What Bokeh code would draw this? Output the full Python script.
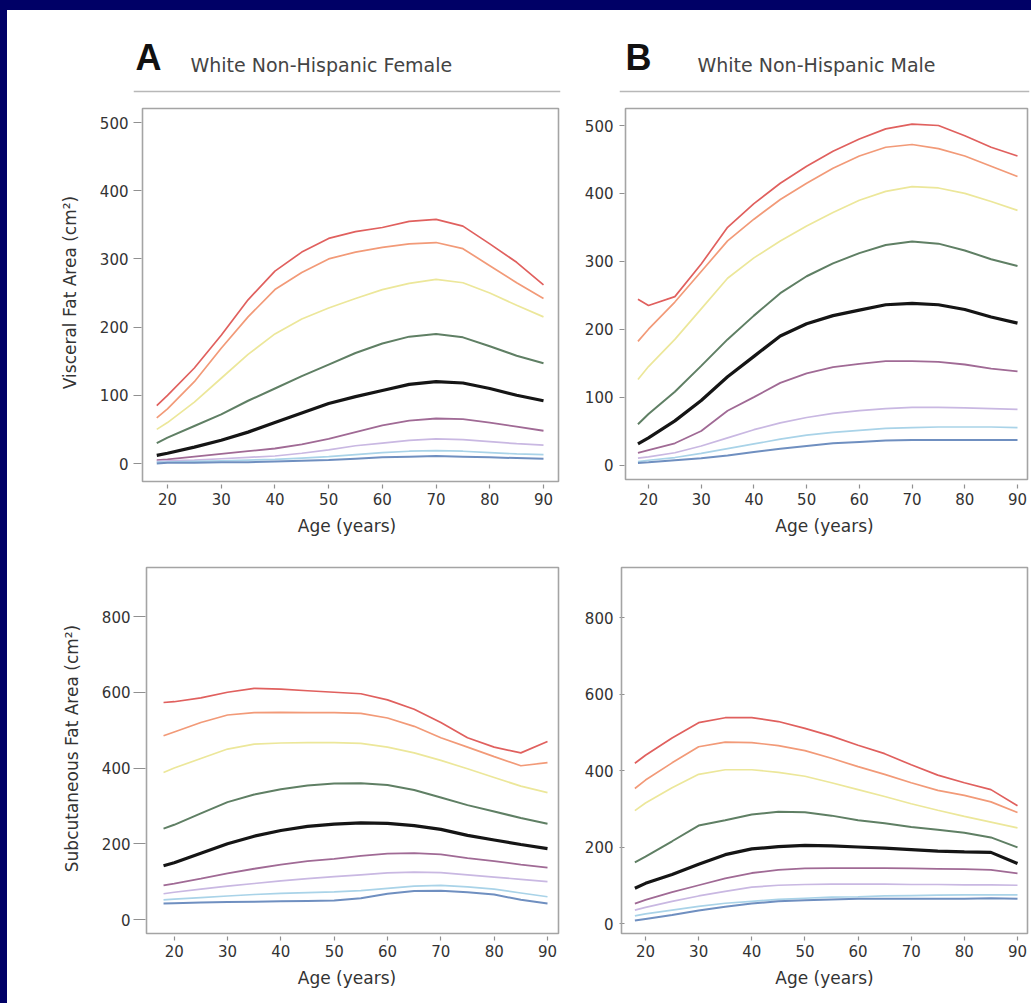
from bokeh.plotting import figure
from bokeh.layouts import column, row, Spacer
from bokeh.models import Range1d, FixedTicker, Label, BoxAnnotation, Span
from bokeh.embed import file_html
from bokeh.resources import INLINE

# ---------------- data ----------------
ages = [18, 20, 25, 30, 35, 40, 45, 50, 55, 60, 65, 70, 75, 80, 85, 90]
percentiles = ["97th", "95th", "90th", "75th", "50th", "25th", "10th", "5th", "3rd"]
x_ticks = [20, 30, 40, 50, 60, 70, 80, 90]
vat_ticks = [0, 100, 200, 300, 400, 500]
sat_ticks = [0, 200, 400, 600, 800]
titles = ["White Non-Hispanic Female", "White Non-Hispanic Male"]
letters = ["A", "B"]
x_title = "Age (years)"
y_titles = ["Visceral Fat Area (cm²)", "Subcutaneous Fat Area (cm²)"]

# A: White Non-Hispanic Female, visceral fat area
fv_p97 = [85, 100, 140, 188, 240, 282, 310, 330, 340, 346, 355, 358, 348, 322, 295, 262]
fv_p95 = [67, 80, 120, 169, 215, 255, 280, 300, 310, 317, 322, 324, 315, 290, 265, 242]
fv_p90 = [50, 60, 90, 125, 160, 190, 212, 228, 242, 255, 264, 270, 265, 250, 232, 215]
fv_p75 = [30, 38, 55, 72, 92, 110, 128, 145, 162, 176, 186, 190, 185, 172, 158, 147]
fv_p50 = [12, 15, 24, 34, 46, 60, 74, 88, 98, 107, 116, 120, 118, 110, 100, 92]
fv_p25 = [5, 6, 10, 14, 18, 22, 28, 36, 46, 56, 63, 66, 65, 60, 54, 48]
fv_p10 = [3, 4, 5, 7, 9, 11, 15, 20, 26, 30, 34, 36, 35, 32, 29, 27]
fv_p05 = [2, 2, 3, 4, 5, 6, 8, 10, 13, 16, 18, 19, 18, 16, 14, 13]
fv_p03 = [0, 1, 1, 2, 2, 3, 4, 5, 7, 9, 10, 11, 10, 9, 8, 7]

# B: White Non-Hispanic Male, visceral fat area
mv_p97 = [244, 235, 248, 296, 350, 385, 415, 440, 462, 480, 495, 502, 500, 485, 468, 455]
mv_p95 = [182, 200, 240, 285, 330, 362, 391, 415, 437, 455, 468, 472, 466, 455, 440, 425]
mv_p90 = [126, 145, 185, 230, 275, 305, 330, 352, 372, 390, 403, 410, 408, 400, 388, 375]
mv_p75 = [60, 75, 108, 146, 185, 220, 253, 278, 297, 312, 324, 329, 326, 316, 303, 293]
mv_p50 = [31, 40, 65, 95, 130, 160, 190, 208, 220, 228, 236, 238, 236, 229, 218, 209]
mv_p25 = [18, 22, 32, 50, 80, 100, 121, 135, 144, 149, 153, 153, 152, 148, 142, 138]
mv_p10 = [10, 12, 18, 28, 40, 52, 62, 70, 76, 80, 83, 85, 85, 84, 83, 82]
mv_p05 = [5, 7, 11, 17, 24, 31, 38, 44, 48, 51, 54, 55, 56, 56, 56, 55]
mv_p03 = [3, 4, 7, 10, 14, 19, 24, 28, 32, 34, 36, 37, 37, 37, 37, 37]

# A: White Non-Hispanic Female, subcutaneous fat area
fs_p97 = [573, 575, 585, 600, 610, 608, 604, 600, 596, 580, 555, 520, 480, 455, 440, 470]
fs_p95 = [485, 495, 520, 540, 546, 547, 546, 546, 544, 532, 510, 480, 455, 430, 406, 414]
fs_p90 = [388, 400, 425, 450, 463, 466, 467, 467, 465, 455, 440, 420, 398, 375, 352, 335]
fs_p75 = [240, 250, 280, 310, 330, 344, 354, 359, 360, 355, 342, 322, 302, 285, 268, 253]
fs_p50 = [142, 150, 175, 200, 220, 235, 246, 252, 255, 254, 248, 238, 222, 210, 198, 187]
fs_p25 = [90, 95, 108, 122, 134, 145, 154, 160, 168, 174, 175, 172, 162, 154, 145, 137]
fs_p10 = [68, 72, 80, 88, 95, 102, 108, 113, 118, 123, 125, 124, 118, 112, 106, 100]
fs_p05 = [52, 54, 58, 62, 66, 69, 71, 73, 76, 82, 88, 90, 86, 80, 70, 60]
fs_p03 = [42, 43, 45, 46, 47, 48, 49, 50, 56, 68, 75, 76, 72, 66, 52, 42]

# B: White Non-Hispanic Male, subcutaneous fat area
ms_p97 = [419, 440, 485, 525, 538, 538, 528, 510, 490, 466, 444, 415, 388, 368, 350, 308]
ms_p95 = [353, 375, 420, 462, 474, 473, 465, 452, 432, 410, 390, 368, 348, 335, 318, 290]
ms_p90 = [295, 315, 355, 390, 402, 402, 395, 385, 368, 350, 332, 313, 296, 280, 265, 250]
ms_p75 = [160, 175, 215, 256, 270, 285, 292, 291, 282, 270, 262, 252, 245, 237, 225, 199]
ms_p50 = [92, 105, 128, 155, 180, 195, 201, 204, 203, 200, 197, 193, 189, 187, 186, 157]
ms_p25 = [52, 62, 82, 100, 118, 132, 140, 144, 145, 145, 145, 144, 143, 142, 140, 131]
ms_p10 = [35, 42, 58, 72, 84, 95, 100, 102, 103, 103, 103, 102, 102, 101, 101, 100]
ms_p05 = [20, 25, 35, 45, 53, 58, 63, 66, 69, 70, 72, 73, 74, 75, 75, 75]
ms_p03 = [8, 12, 22, 34, 44, 52, 58, 61, 63, 65, 65, 65, 65, 65, 66, 65]

# ---------------- styling / geometry (page pixels) ----------------
NAVY = "#000066"
FONT = "DejaVu Sans"
colors = ["#e0605e", "#f29a78", "#ece79a", "#5f7f64", "#151515",
          "#a06a95", "#c9b8e2", "#a9d3e8", "#6f8fc0"]
widths = [1.7, 1.7, 1.7, 2.0, 3.2, 1.8, 1.7, 1.7, 2.0]

PAGE_L, PAGE_T = 7, 10                  # navy strip widths
COL_X = [7, 575, 1031]                  # figure column edges
ROW_Y = [10, 98, 540, 1003]             # header row, top panel row, bottom panel row
FRAME_X = [(133, 560), (619, 1029)]
FRAME_Y = [None, (100, 484), (560, 936)]


class Mapper:
    """Linear page-pixel <-> data mapping from two calibration ticks."""
    def __init__(self, v0, p0, v1, p1):
        self.v0, self.p0 = v0, p0
        self.k = (v1 - v0) / (p1 - p0)

    def __call__(self, px):
        return self.v0 + (px - self.p0) * self.k


def header(ci, letter, title, lx, tx):
    fx0, fx1 = FRAME_X[ci]
    w = COL_X[ci + 1] - COL_X[ci]
    h = ROW_Y[1] - ROW_Y[0]
    # header drawn in page-pixel coordinates (y axis pointing down)
    p = figure(width=w, height=h, output_backend="svg", toolbar_location=None,
               x_range=Range1d(fx0, fx1), y_range=Range1d(ROW_Y[1], ROW_Y[0]),
               x_axis_type=None, y_axis_type=None,
               min_border_left=fx0 - COL_X[ci], min_border_right=COL_X[ci + 1] - fx1,
               min_border_top=0, min_border_bottom=0)
    p.outline_line_color = None
    p.background_fill_color = "white"
    p.border_fill_color = "white"
    p.xgrid.visible = False
    p.ygrid.visible = False
    p.add_layout(Span(location=91, dimension="width",
                      line_color="#b8b8b8", line_width=1.6))
    p.add_layout(Label(x=lx, y=57, text=letter,
                       text_font="Liberation Sans", text_font_size="36px",
                       text_font_style="bold", text_color="#111111",
                       text_baseline="middle"))
    p.add_layout(Label(x=tx, y=64, text=title, text_font=FONT,
                       text_font_size="19px", text_color="#444444",
                       text_baseline="middle"))
    return p


def panel(series, ci, ri, xmap, ymap, yticks, ylabel, box, tick_in, y_std):
    fx0, fx1 = FRAME_X[ci]
    fy0, fy1 = FRAME_Y[ri]
    w = COL_X[ci + 1] - COL_X[ci]
    h = ROW_Y[ri + 1] - ROW_Y[ri]
    p = figure(width=w, height=h, output_backend="svg", toolbar_location=None,
               x_range=Range1d(xmap(fx0), xmap(fx1)),
               y_range=Range1d(ymap(fy1), ymap(fy0)),
               min_border_left=fx0 - COL_X[ci], min_border_right=COL_X[ci + 1] - fx1,
               min_border_top=fy0 - ROW_Y[ri], min_border_bottom=ROW_Y[ri + 1] - fy1)
    p.background_fill_color = "white"
    p.border_fill_color = "white"
    p.outline_line_color = None
    p.xgrid.visible = False
    p.ygrid.visible = False

    bl, br, bt, bb = box
    p.add_layout(BoxAnnotation(left=xmap(bl), right=xmap(br), top=ymap(bt),
                               bottom=ymap(bb), fill_color=None,
                               line_color="#a4a4a4", line_alpha=1.0,
                               line_width=1.6))

    for vals, c, lw in zip(series, colors, widths):
        p.line(ages, vals, line_color=c, line_width=lw)

    p.xaxis.ticker = FixedTicker(ticks=x_ticks)
    p.yaxis.ticker = FixedTicker(ticks=yticks)
    p.xaxis.axis_label = x_title
    if ylabel:
        p.yaxis.axis_label = ylabel
    for ax in (p.xaxis[0], p.yaxis[0]):
        ax.axis_line_color = None
        ax.minor_tick_line_color = None
        ax.major_tick_line_color = "#909090"
        ax.major_tick_line_width = 1.2
        ax.major_label_text_font = FONT
        ax.major_label_text_font_size = "15px"
        ax.major_label_text_color = "#333333"
        ax.axis_label_text_font = FONT
        ax.axis_label_text_font_size = "17px"
        ax.axis_label_text_font_style = "normal"
        ax.axis_label_text_color = "#333333"
    p.xaxis.major_tick_in = 0
    p.xaxis.major_tick_out = 4
    p.xaxis.major_label_standoff = 4
    p.xaxis.axis_label_standoff = 8
    p.yaxis.major_tick_in = tick_in
    p.yaxis.major_tick_out = 0
    p.yaxis.major_label_standoff = y_std
    p.yaxis.axis_label_standoff = 17
    return p


# calibration from tick positions in the reference (page pixels)
xA1, yA1 = Mapper(20, 167, 90, 543), Mapper(0, 463, 500, 122)
xB1, yB1 = Mapper(20, 648, 90, 1017), Mapper(0, 464.5, 500, 125)
xA2, yA2 = Mapper(20, 173.7, 90, 547), Mapper(0, 919, 800, 616)
xB2, yB2 = Mapper(20, 645, 90, 1017), Mapper(0, 923, 800, 617)

hA = header(0, letters[0], titles[0], 135, 190)
hB = header(1, letters[1], titles[1], 625, 697)

pA1 = panel([fv_p97, fv_p95, fv_p90, fv_p75, fv_p50, fv_p25, fv_p10, fv_p05, fv_p03],
            0, 1, xA1, yA1, vat_ticks, y_titles[0], (142, 558, 108, 481), 8, 5)
pB1 = panel([mv_p97, mv_p95, mv_p90, mv_p75, mv_p50, mv_p25, mv_p10, mv_p05, mv_p03],
            1, 1, xB1, yB1, vat_ticks, None, (625, 1027, 108, 479), 5, 6)
pA2 = panel([fs_p97, fs_p95, fs_p90, fs_p75, fs_p50, fs_p25, fs_p10, fs_p05, fs_p03],
            0, 2, xA2, yA2, sat_ticks, y_titles[1], (146, 558, 567, 933), 12, 3)
pB2 = panel([ms_p97, ms_p95, ms_p90, ms_p75, ms_p50, ms_p25, ms_p10, ms_p05, ms_p03],
            1, 2, xB2, yB2, sat_ticks, None, (621, 1027, 567, 933), 5, 6)

left = column(hA, pA1, pA2, spacing=0)
right = column(hB, pB1, pB2, spacing=0)
grid = row(left, right, spacing=0)

root = column(
    Spacer(width=1031, height=PAGE_T, styles={"background-color": NAVY}),
    row(Spacer(width=PAGE_L, height=993, styles={"background-color": NAVY}), grid,
        spacing=0),
    spacing=0,
)

open("out.html", "w").write(file_html(root, INLINE))
